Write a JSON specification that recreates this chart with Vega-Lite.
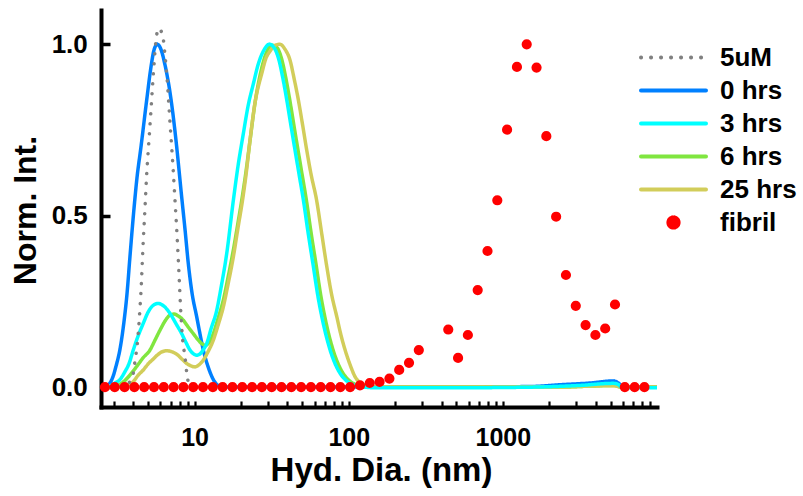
{
  "$schema": "https://vega.github.io/schema/vega-lite/v6.json",
  "width": 556,
  "height": 397,
  "autosize": "none",
  "padding": {"left": 101, "top": 10, "right": 146, "bottom": 89},
  "background": "white",
  "config": {
    "view": {"stroke": null},
    "axis": {
      "grid": false,
      "domainColor": "black",
      "tickColor": "black",
      "labelColor": "black",
      "titleColor": "black",
      "labelFont": "Liberation Sans",
      "titleFont": "Liberation Sans",
      "labelFontWeight": "bold",
      "titleFontWeight": "bold"
    }
  },
  "datasets": {
    "curves": [
      {"series": "0 hrs", "dia": 2.47, "int": 0},
      {"series": "0 hrs", "dia": 2.699, "int": 0.004},
      {"series": "0 hrs", "dia": 2.822, "int": 0.012},
      {"series": "0 hrs", "dia": 2.952, "int": 0.03},
      {"series": "0 hrs", "dia": 3.087, "int": 0.06},
      {"series": "0 hrs", "dia": 3.278, "int": 0.11},
      {"series": "0 hrs", "dia": 3.48, "int": 0.19},
      {"series": "0 hrs", "dia": 3.639, "int": 0.27},
      {"series": "0 hrs", "dia": 3.806, "int": 0.38},
      {"series": "0 hrs", "dia": 4.042, "int": 0.52},
      {"series": "0 hrs", "dia": 4.227, "int": 0.61},
      {"series": "0 hrs", "dia": 4.486, "int": 0.7},
      {"series": "0 hrs", "dia": 4.887, "int": 0.837},
      {"series": "0 hrs", "dia": 5.212, "int": 0.934},
      {"series": "0 hrs", "dia": 5.451, "int": 0.983},
      {"series": "0 hrs", "dia": 5.727, "int": 1.0},
      {"series": "0 hrs", "dia": 6.051, "int": 0.985},
      {"series": "0 hrs", "dia": 6.424, "int": 0.94},
      {"series": "0 hrs", "dia": 7.027, "int": 0.84},
      {"series": "0 hrs", "dia": 7.572, "int": 0.72},
      {"series": "0 hrs", "dia": 8.221, "int": 0.56},
      {"series": "0 hrs", "dia": 8.665, "int": 0.46},
      {"series": "0 hrs", "dia": 9.104, "int": 0.36},
      {"series": "0 hrs", "dia": 9.619, "int": 0.275},
      {"series": "0 hrs", "dia": 10.32, "int": 0.205},
      {"series": "0 hrs", "dia": 10.84, "int": 0.155},
      {"series": "0 hrs", "dia": 11.39, "int": 0.108},
      {"series": "0 hrs", "dia": 12.22, "int": 0.06},
      {"series": "0 hrs", "dia": 13.23, "int": 0.022},
      {"series": "0 hrs", "dia": 14.19, "int": 0.005},
      {"series": "0 hrs", "dia": 15.75, "int": 0},
      {"series": "0 hrs", "dia": 48.35, "int": 0},
      {"series": "0 hrs", "dia": 215.7, "int": 0},
      {"series": "0 hrs", "dia": 961.8, "int": 0.001},
      {"series": "0 hrs", "dia": 1575, "int": 0.002},
      {"series": "0 hrs", "dia": 2359, "int": 0.007},
      {"series": "0 hrs", "dia": 3694, "int": 0.012},
      {"series": "0 hrs", "dia": 5211, "int": 0.018},
      {"series": "0 hrs", "dia": 5616, "int": 0.012},
      {"series": "0 hrs", "dia": 5962, "int": 0.002},
      {"series": "0 hrs", "dia": 6721, "int": 0},
      {"series": "0 hrs", "dia": 10000, "int": 0},

      {"series": "6 hrs", "dia": 2.47, "int": 0},
      {"series": "6 hrs", "dia": 3.042, "int": 0.002},
      {"series": "6 hrs", "dia": 3.278, "int": 0.008},
      {"series": "6 hrs", "dia": 3.444, "int": 0.015},
      {"series": "6 hrs", "dia": 3.806, "int": 0.035},
      {"series": "6 hrs", "dia": 4.207, "int": 0.06},
      {"series": "6 hrs", "dia": 4.623, "int": 0.085},
      {"series": "6 hrs", "dia": 5.133, "int": 0.108},
      {"series": "6 hrs", "dia": 5.534, "int": 0.137},
      {"series": "6 hrs", "dia": 5.962, "int": 0.166},
      {"series": "6 hrs", "dia": 6.589, "int": 0.2},
      {"series": "6 hrs", "dia": 6.923, "int": 0.21},
      {"series": "6 hrs", "dia": 7.349, "int": 0.213},
      {"series": "6 hrs", "dia": 7.862, "int": 0.207},
      {"series": "6 hrs", "dia": 8.446, "int": 0.195},
      {"series": "6 hrs", "dia": 9.06, "int": 0.176},
      {"series": "6 hrs", "dia": 9.806, "int": 0.156},
      {"series": "6 hrs", "dia": 10.44, "int": 0.14},
      {"series": "6 hrs", "dia": 11.12, "int": 0.127},
      {"series": "6 hrs", "dia": 11.68, "int": 0.122},
      {"series": "6 hrs", "dia": 12.31, "int": 0.128},
      {"series": "6 hrs", "dia": 13.23, "int": 0.156},
      {"series": "6 hrs", "dia": 14.19, "int": 0.2},
      {"series": "6 hrs", "dia": 15.36, "int": 0.254},
      {"series": "6 hrs", "dia": 16.48, "int": 0.32},
      {"series": "6 hrs", "dia": 17.84, "int": 0.4},
      {"series": "6 hrs", "dia": 19.13, "int": 0.48},
      {"series": "6 hrs", "dia": 20.22, "int": 0.545},
      {"series": "6 hrs", "dia": 21.57, "int": 0.63},
      {"series": "6 hrs", "dia": 22.89, "int": 0.72},
      {"series": "6 hrs", "dia": 24.67, "int": 0.83},
      {"series": "6 hrs", "dia": 26.6, "int": 0.91},
      {"series": "6 hrs", "dia": 28.65, "int": 0.965},
      {"series": "6 hrs", "dia": 31.67, "int": 0.997},
      {"series": "6 hrs", "dia": 34.28, "int": 0.99},
      {"series": "6 hrs", "dia": 36.56, "int": 0.96},
      {"series": "6 hrs", "dia": 38.94, "int": 0.905},
      {"series": "6 hrs", "dia": 41.46, "int": 0.837},
      {"series": "6 hrs", "dia": 44.21, "int": 0.76},
      {"series": "6 hrs", "dia": 46.93, "int": 0.69},
      {"series": "6 hrs", "dia": 49.83, "int": 0.62},
      {"series": "6 hrs", "dia": 53.13, "int": 0.545},
      {"series": "6 hrs", "dia": 57.0, "int": 0.45},
      {"series": "6 hrs", "dia": 61.71, "int": 0.351},
      {"series": "6 hrs", "dia": 65.71, "int": 0.27},
      {"series": "6 hrs", "dia": 69.97, "int": 0.205},
      {"series": "6 hrs", "dia": 74.58, "int": 0.15},
      {"series": "6 hrs", "dia": 79.17, "int": 0.108},
      {"series": "6 hrs", "dia": 85.34, "int": 0.068},
      {"series": "6 hrs", "dia": 91.97, "int": 0.04},
      {"series": "6 hrs", "dia": 99.11, "int": 0.022},
      {"series": "6 hrs", "dia": 106.8, "int": 0.011},
      {"series": "6 hrs", "dia": 116.8, "int": 0.004},
      {"series": "6 hrs", "dia": 127.8, "int": 0.001},
      {"series": "6 hrs", "dia": 159.9, "int": 0},
      {"series": "6 hrs", "dia": 2359, "int": 0},
      {"series": "6 hrs", "dia": 3694, "int": 0.003},
      {"series": "6 hrs", "dia": 5211, "int": 0.005},
      {"series": "6 hrs", "dia": 5962, "int": 0},
      {"series": "6 hrs", "dia": 10000, "int": 0},

      {"series": "25 hrs", "dia": 2.47, "int": 0},
      {"series": "25 hrs", "dia": 3.278, "int": 0},
      {"series": "25 hrs", "dia": 3.711, "int": 0.006},
      {"series": "25 hrs", "dia": 3.981, "int": 0.015},
      {"series": "25 hrs", "dia": 4.309, "int": 0.035},
      {"series": "25 hrs", "dia": 4.645, "int": 0.05},
      {"series": "25 hrs", "dia": 5.005, "int": 0.068},
      {"series": "25 hrs", "dia": 5.394, "int": 0.082},
      {"series": "25 hrs", "dia": 5.785, "int": 0.095},
      {"series": "25 hrs", "dia": 6.143, "int": 0.103},
      {"series": "25 hrs", "dia": 6.589, "int": 0.106},
      {"series": "25 hrs", "dia": 7.027, "int": 0.104},
      {"series": "25 hrs", "dia": 7.652, "int": 0.096},
      {"series": "25 hrs", "dia": 8.221, "int": 0.083},
      {"series": "25 hrs", "dia": 8.887, "int": 0.069},
      {"series": "25 hrs", "dia": 9.476, "int": 0.062},
      {"series": "25 hrs", "dia": 10.06, "int": 0.059},
      {"series": "25 hrs", "dia": 10.68, "int": 0.065},
      {"series": "25 hrs", "dia": 11.39, "int": 0.079},
      {"series": "25 hrs", "dia": 12.22, "int": 0.103},
      {"series": "25 hrs", "dia": 13.23, "int": 0.137},
      {"series": "25 hrs", "dia": 14.19, "int": 0.18},
      {"series": "25 hrs", "dia": 15.36, "int": 0.234},
      {"series": "25 hrs", "dia": 16.48, "int": 0.3},
      {"series": "25 hrs", "dia": 17.84, "int": 0.38},
      {"series": "25 hrs", "dia": 19.13, "int": 0.465},
      {"series": "25 hrs", "dia": 20.46, "int": 0.545},
      {"series": "25 hrs", "dia": 21.57, "int": 0.62},
      {"series": "25 hrs", "dia": 22.89, "int": 0.72},
      {"series": "25 hrs", "dia": 24.67, "int": 0.83},
      {"series": "25 hrs", "dia": 27.28, "int": 0.915},
      {"series": "25 hrs", "dia": 29.08, "int": 0.96},
      {"series": "25 hrs", "dia": 30.88, "int": 0.98},
      {"series": "25 hrs", "dia": 33.28, "int": 0.997},
      {"series": "25 hrs", "dia": 35.85, "int": 1.0},
      {"series": "25 hrs", "dia": 38.64, "int": 0.985},
      {"series": "25 hrs", "dia": 41.64, "int": 0.953},
      {"series": "25 hrs", "dia": 44.21, "int": 0.9},
      {"series": "25 hrs", "dia": 47.14, "int": 0.837},
      {"series": "25 hrs", "dia": 50.19, "int": 0.765},
      {"series": "25 hrs", "dia": 53.44, "int": 0.69},
      {"series": "25 hrs", "dia": 57.0, "int": 0.62},
      {"series": "25 hrs", "dia": 61.89, "int": 0.545},
      {"series": "25 hrs", "dia": 66.68, "int": 0.45},
      {"series": "25 hrs", "dia": 72.08, "int": 0.351},
      {"series": "25 hrs", "dia": 77.45, "int": 0.27},
      {"series": "25 hrs", "dia": 83.7, "int": 0.205},
      {"series": "25 hrs", "dia": 89.25, "int": 0.15},
      {"series": "25 hrs", "dia": 94.76, "int": 0.108},
      {"series": "25 hrs", "dia": 102.1, "int": 0.065},
      {"series": "25 hrs", "dia": 110.0, "int": 0.03},
      {"series": "25 hrs", "dia": 118.6, "int": 0.013},
      {"series": "25 hrs", "dia": 127.8, "int": 0.005},
      {"series": "25 hrs", "dia": 141.9, "int": 0.001},
      {"series": "25 hrs", "dia": 172.4, "int": 0},
      {"series": "25 hrs", "dia": 2359, "int": 0},
      {"series": "25 hrs", "dia": 3694, "int": 0.003},
      {"series": "25 hrs", "dia": 5211, "int": 0.004},
      {"series": "25 hrs", "dia": 5962, "int": 0},
      {"series": "25 hrs", "dia": 10000, "int": 0},

      {"series": "3 hrs", "dia": 2.47, "int": 0.003},
      {"series": "3 hrs", "dia": 2.659, "int": 0.003},
      {"series": "3 hrs", "dia": 2.822, "int": 0.004},
      {"series": "3 hrs", "dia": 3.042, "int": 0.012},
      {"series": "3 hrs", "dia": 3.278, "int": 0.022},
      {"series": "3 hrs", "dia": 3.533, "int": 0.045},
      {"series": "3 hrs", "dia": 3.75, "int": 0.068},
      {"series": "3 hrs", "dia": 3.999, "int": 0.108},
      {"series": "3 hrs", "dia": 4.29, "int": 0.148},
      {"series": "3 hrs", "dia": 4.645, "int": 0.186},
      {"series": "3 hrs", "dia": 4.983, "int": 0.218},
      {"series": "3 hrs", "dia": 5.37, "int": 0.238},
      {"series": "3 hrs", "dia": 5.811, "int": 0.244},
      {"series": "3 hrs", "dia": 6.329, "int": 0.236},
      {"series": "3 hrs", "dia": 6.923, "int": 0.215},
      {"series": "3 hrs", "dia": 7.572, "int": 0.185},
      {"series": "3 hrs", "dia": 8.246, "int": 0.156},
      {"series": "3 hrs", "dia": 8.796, "int": 0.13},
      {"series": "3 hrs", "dia": 9.335, "int": 0.108},
      {"series": "3 hrs", "dia": 9.837, "int": 0.097},
      {"series": "3 hrs", "dia": 10.32, "int": 0.093},
      {"series": "3 hrs", "dia": 10.84, "int": 0.097},
      {"series": "3 hrs", "dia": 11.42, "int": 0.11},
      {"series": "3 hrs", "dia": 11.98, "int": 0.127},
      {"series": "3 hrs", "dia": 12.78, "int": 0.17},
      {"series": "3 hrs", "dia": 13.92, "int": 0.224},
      {"series": "3 hrs", "dia": 14.84, "int": 0.29},
      {"series": "3 hrs", "dia": 16.16, "int": 0.39},
      {"series": "3 hrs", "dia": 17.84, "int": 0.545},
      {"series": "3 hrs", "dia": 19.13, "int": 0.645},
      {"series": "3 hrs", "dia": 20.72, "int": 0.74},
      {"series": "3 hrs", "dia": 22.23, "int": 0.82},
      {"series": "3 hrs", "dia": 24.06, "int": 0.885},
      {"series": "3 hrs", "dia": 25.8, "int": 0.94},
      {"series": "3 hrs", "dia": 27.93, "int": 0.98},
      {"series": "3 hrs", "dia": 30.56, "int": 1.0},
      {"series": "3 hrs", "dia": 32.78, "int": 0.99},
      {"series": "3 hrs", "dia": 34.96, "int": 0.96},
      {"series": "3 hrs", "dia": 37.23, "int": 0.905},
      {"series": "3 hrs", "dia": 39.64, "int": 0.837},
      {"series": "3 hrs", "dia": 42.27, "int": 0.76},
      {"series": "3 hrs", "dia": 44.86, "int": 0.69},
      {"series": "3 hrs", "dia": 47.64, "int": 0.62},
      {"series": "3 hrs", "dia": 50.8, "int": 0.545},
      {"series": "3 hrs", "dia": 54.5, "int": 0.45},
      {"series": "3 hrs", "dia": 58.98, "int": 0.351},
      {"series": "3 hrs", "dia": 62.83, "int": 0.27},
      {"series": "3 hrs", "dia": 66.9, "int": 0.205},
      {"series": "3 hrs", "dia": 71.33, "int": 0.15},
      {"series": "3 hrs", "dia": 75.72, "int": 0.108},
      {"series": "3 hrs", "dia": 81.6, "int": 0.068},
      {"series": "3 hrs", "dia": 87.96, "int": 0.04},
      {"series": "3 hrs", "dia": 94.76, "int": 0.022},
      {"series": "3 hrs", "dia": 102.1, "int": 0.011},
      {"series": "3 hrs", "dia": 111.7, "int": 0.004},
      {"series": "3 hrs", "dia": 122.2, "int": 0.001},
      {"series": "3 hrs", "dia": 148.4, "int": -0.002},
      {"series": "3 hrs", "dia": 455.3, "int": -0.002},
      {"series": "3 hrs", "dia": 1575, "int": 0.0},
      {"series": "3 hrs", "dia": 3182, "int": 0.005},
      {"series": "3 hrs", "dia": 5211, "int": 0.011},
      {"series": "3 hrs", "dia": 5534, "int": 0.009},
      {"series": "3 hrs", "dia": 5962, "int": -0.001},
      {"series": "3 hrs", "dia": 6721, "int": -0.002},
      {"series": "3 hrs", "dia": 10000, "int": -0.002},

      {"series": "5uM", "dia": 2.47, "int": 0},
      {"series": "5uM", "dia": 3.533, "int": 0.003},
      {"series": "5uM", "dia": 3.75, "int": 0.012},
      {"series": "5uM", "dia": 3.893, "int": 0.025},
      {"series": "5uM", "dia": 3.999, "int": 0.04},
      {"series": "5uM", "dia": 4.102, "int": 0.075},
      {"series": "5uM", "dia": 4.271, "int": 0.137},
      {"series": "5uM", "dia": 4.421, "int": 0.23},
      {"series": "5uM", "dia": 4.534, "int": 0.32},
      {"series": "5uM", "dia": 4.603, "int": 0.39},
      {"series": "5uM", "dia": 4.763, "int": 0.52},
      {"series": "5uM", "dia": 4.887, "int": 0.62},
      {"series": "5uM", "dia": 5.057, "int": 0.72},
      {"series": "5uM", "dia": 5.212, "int": 0.808},
      {"series": "5uM", "dia": 5.346, "int": 0.885},
      {"series": "5uM", "dia": 5.476, "int": 0.953},
      {"series": "5uM", "dia": 5.616, "int": 1.012},
      {"series": "5uM", "dia": 5.847, "int": 1.046},
      {"series": "5uM", "dia": 6.206, "int": 1.026},
      {"series": "5uM", "dia": 6.424, "int": 0.968},
      {"series": "5uM", "dia": 6.689, "int": 0.876},
      {"series": "5uM", "dia": 6.821, "int": 0.817},
      {"series": "5uM", "dia": 6.955, "int": 0.759},
      {"series": "5uM", "dia": 7.102, "int": 0.7},
      {"series": "5uM", "dia": 7.242, "int": 0.642},
      {"series": "5uM", "dia": 7.381, "int": 0.58},
      {"series": "5uM", "dia": 7.722, "int": 0.429},
      {"series": "5uM", "dia": 7.955, "int": 0.312},
      {"series": "5uM", "dia": 8.124, "int": 0.224},
      {"series": "5uM", "dia": 8.37, "int": 0.137},
      {"series": "5uM", "dia": 8.665, "int": 0.088},
      {"series": "5uM", "dia": 8.887, "int": 0.043},
      {"series": "5uM", "dia": 9.104, "int": 0.015},
      {"series": "5uM", "dia": 9.476, "int": 0.004},
      {"series": "5uM", "dia": 10.06, "int": 0},
      {"series": "5uM", "dia": 14.62, "int": 0}
    ],
    "fibril": [
      {"series": "fibril", "dia": 2.619, "int": 0},
      {"series": "fibril", "dia": 3.032, "int": 0},
      {"series": "fibril", "dia": 3.512, "int": 0},
      {"series": "fibril", "dia": 4.066, "int": 0},
      {"series": "fibril", "dia": 4.708, "int": 0},
      {"series": "fibril", "dia": 5.451, "int": 0},
      {"series": "fibril", "dia": 6.31, "int": 0},
      {"series": "fibril", "dia": 7.306, "int": 0},
      {"series": "fibril", "dia": 8.46, "int": 0},
      {"series": "fibril", "dia": 9.795, "int": 0},
      {"series": "fibril", "dia": 11.34, "int": 0},
      {"series": "fibril", "dia": 13.13, "int": 0},
      {"series": "fibril", "dia": 15.2, "int": 0},
      {"series": "fibril", "dia": 17.6, "int": 0},
      {"series": "fibril", "dia": 20.38, "int": 0},
      {"series": "fibril", "dia": 23.6, "int": 0},
      {"series": "fibril", "dia": 27.32, "int": 0},
      {"series": "fibril", "dia": 31.63, "int": 0},
      {"series": "fibril", "dia": 36.62, "int": 0},
      {"series": "fibril", "dia": 42.41, "int": 0},
      {"series": "fibril", "dia": 49.1, "int": 0},
      {"series": "fibril", "dia": 56.84, "int": 0},
      {"series": "fibril", "dia": 65.81, "int": 0},
      {"series": "fibril", "dia": 76.2, "int": 0},
      {"series": "fibril", "dia": 88.24, "int": 0},
      {"series": "fibril", "dia": 102.1, "int": 0},
      {"series": "fibril", "dia": 118.3, "int": 0.005},
      {"series": "fibril", "dia": 136.9, "int": 0.012},
      {"series": "fibril", "dia": 158.5, "int": 0.015},
      {"series": "fibril", "dia": 183.6, "int": 0.025},
      {"series": "fibril", "dia": 212.5, "int": 0.05},
      {"series": "fibril", "dia": 246.1, "int": 0.071},
      {"series": "fibril", "dia": 284.9, "int": 0.108},
      {"series": "fibril", "dia": 442.3, "int": 0.168},
      {"series": "fibril", "dia": 512.1, "int": 0.085},
      {"series": "fibril", "dia": 592.9, "int": 0.152},
      {"series": "fibril", "dia": 686.5, "int": 0.283},
      {"series": "fibril", "dia": 794.9, "int": 0.397},
      {"series": "fibril", "dia": 920.3, "int": 0.545},
      {"series": "fibril", "dia": 1065, "int": 0.751},
      {"series": "fibril", "dia": 1234, "int": 0.934},
      {"series": "fibril", "dia": 1428, "int": 1.0},
      {"series": "fibril", "dia": 1654, "int": 0.932},
      {"series": "fibril", "dia": 1914, "int": 0.732},
      {"series": "fibril", "dia": 2216, "int": 0.497},
      {"series": "fibril", "dia": 2566, "int": 0.327},
      {"series": "fibril", "dia": 2972, "int": 0.237},
      {"series": "fibril", "dia": 3441, "int": 0.181},
      {"series": "fibril", "dia": 3984, "int": 0.152},
      {"series": "fibril", "dia": 4612, "int": 0.171},
      {"series": "fibril", "dia": 5340, "int": 0.241},
      {"series": "fibril", "dia": 6182, "int": 0},
      {"series": "fibril", "dia": 7159, "int": 0},
      {"series": "fibril", "dia": 8287, "int": 0}
    ]
  },
  "layer": [
    {
      "data": {"name": "curves"},
      "mark": {"type": "line", "strokeWidth": 3.5, "strokeCap": "round", "interpolate": "monotone", "clip": true},
      "encoding": {
        "x": {
          "field": "dia", "type": "quantitative",
          "scale": {"type": "log", "domain": [2.47, 10000], "nice": false},
          "axis": {
            "title": "Hyd. Dia. (nm)",
            "values": [3,4,5,6,7,8,9,10,20,30,40,50,60,70,80,90,100,200,300,400,500,600,700,800,900,1000,2000,3000,4000,5000,6000,7000,8000,9000],
            "format": "d",
            "labelExpr": "indexof([10,100,1000], datum.value) >= 0 ? datum.label : ''",
            "labelOverlap": false,
            "labelFlush": false,
            "labelBound": false,
            "labelFontSize": 25,
            "tickSize": -6,
            "tickWidth": 2.2,
            "labelPadding": 24,
            "domainWidth": 4,
            "domainCap": "square",
            "titleFontSize": 33,
            "titleX": 280,
            "titleY": 73,
            "titleBaseline": "alphabetic",
            "titleAlign": "center",
            "encode": {"ticks": {"update": {"y2": {"signal": "indexof([10,100,1000], datum.value) >= 0 ? -12 : -6"}}}}
          }
        },
        "y": {
          "field": "int", "type": "quantitative",
          "scale": {"domain": [-0.058, 1.1], "nice": false, "zero": false},
          "axis": {
            "title": "Norm. Int.",
            "values": [0, 0.5, 1],
            "format": ".1f",
            "labelFontSize": 26,
            "tickSize": -9,
            "tickWidth": 3.5,
            "labelPadding": 22.7,
            "domainWidth": 4,
            "domainCap": "square",
            "titleFontSize": 32,
            "titleX": -66,
            "titleY": 200,
            "titleBaseline": "alphabetic",
            "titleAlign": "center",
            "titleAngle": -90
          }
        },
        "color": {
          "field": "series", "type": "nominal",
          "scale": {
            "domain": ["5uM", "0 hrs", "3 hrs", "6 hrs", "25 hrs", "fibril"],
            "range": ["#808080", "#0080ff", "#00ffff", "#80e640", "#d2cd5a", "#ff0000"]
          },
          "legend": {
            "title": null,
            "orient": "none",
            "legendX": 538,
            "legendY": 31,
            "padding": 0,
            "symbolSize": 100,
            "symbolStrokeWidth": 4,
            "clipHeight": 33,
            "labelFont": "Liberation Sans",
            "labelFontSize": 26,
            "labelFontWeight": "bold",
            "labelColor": "black",
            "labelOffset": 12,
            "rowPadding": 0,
            "labelExpr": "datum.label === '5uM' ? '\u00a05uM' : datum.label",
            "encode": {
              "symbols": {
                "update": {
                  "shape": {"signal": "datum.value === 'fibril' ? 'circle' : 'stroke'"},
                  "size": {"signal": "datum.value === 'fibril' ? 104 : 4225"},
                  "stroke": {"signal": "datum.value === 'fibril' ? 'transparent' : scale('color', datum.value)"},
                  "fill": {"signal": "datum.value === 'fibril' ? '#ff0000' : 'transparent'"},
                  "strokeDash": {"signal": "datum.value === '5uM' ? [0.1, 9.9] : [1, 0]"},
                  "strokeWidth": {"value": 4},
                  "strokeCap": {"value": "round"},
                  "opacity": {"value": 1}
                }
              }
            }
          }
        },
        "strokeDash": {
          "field": "series", "type": "nominal",
          "scale": {"domain": ["5uM", "0 hrs", "3 hrs", "6 hrs", "25 hrs"], "range": [[0.1, 9.9], [1, 0], [1, 0], [1, 0], [1, 0]]},
          "legend": null
        }
      }
    },
    {
      "data": {"name": "fibril"},
      "mark": {"type": "point", "filled": true, "shape": "circle", "size": 104, "opacity": 1},
      "encoding": {
        "x": {"field": "dia", "type": "quantitative"},
        "y": {"field": "int", "type": "quantitative"},
        "color": {"field": "series", "type": "nominal"}
      }
    }
  ]
}
